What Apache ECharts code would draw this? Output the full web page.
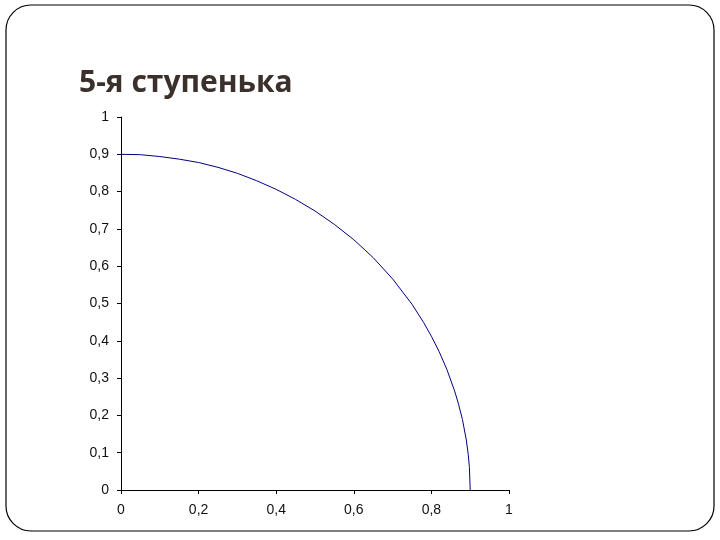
<!DOCTYPE html>
<html><head><meta charset="utf-8">
<script src="https://cdn.jsdelivr.net/npm/echarts@6/dist/echarts.min.js"></script>
<style>html,body{margin:0;padding:0;background:#fff}#c{width:720px;height:540px}</style>
</head><body><div id="c"></div>
<script>
const titleText = '5-я ступенька';
const xValues = [0, 0.05, 0.1, 0.15, 0.2, 0.25, 0.3, 0.35, 0.4, 0.45, 0.5, 0.55, 0.6, 0.65, 0.7, 0.75, 0.78, 0.8, 0.82, 0.84, 0.86, 0.87, 0.88, 0.89, 0.895, 0.898, 0.9];
const yValues = [0.9, 0.899, 0.894, 0.887, 0.878, 0.865, 0.849, 0.829, 0.806, 0.779, 0.748, 0.712, 0.671, 0.623, 0.566, 0.498, 0.449, 0.412, 0.371, 0.323, 0.265, 0.230, 0.189, 0.134, 0.095, 0.060, 0];
const xTicks = {min: 0, max: 1, interval: 0.2};
const yTicks = {min: 0, max: 1, interval: 0.1};

const chart = echarts.init(document.getElementById('c'), null, {renderer: 'canvas'});
const fmt = v => String(+v.toFixed(2)).replace('.', ',');
chart.setOption({
  animation: false,
  graphic: [
    {type: 'rect', shape: {x: 6, y: 5, width: 708, height: 526, r: 25}, style: {fill: 'none', stroke: '#000', lineWidth: 1.2}, z: 0},
    {type: 'text', left: 79, top: 68, style: {text: titleText, font: 'bold 30px "Open Sans"', fill: '#3b302b'}}
  ],
  grid: {left: 121, right: 211, top: 117, bottom: 50, containLabel: false},
  xAxis: {type: 'value', min: xTicks.min, max: xTicks.max, interval: xTicks.interval,
    axisLine: {lineStyle: {color: '#000', width: 1}},
    axisTick: {show: true, inside: false, length: 4, lineStyle: {color: '#000'}},
    splitLine: {show: false},
    axisLabel: {formatter: fmt, color: '#111', fontFamily: 'Liberation Sans', fontSize: 14, margin: 13}},
  yAxis: {type: 'value', min: yTicks.min, max: yTicks.max, interval: yTicks.interval,
    axisLine: {show: true, lineStyle: {color: '#000', width: 1}},
    axisTick: {show: true, inside: false, length: 4, lineStyle: {color: '#000'}},
    splitLine: {show: false},
    axisLabel: {formatter: fmt, color: '#111', fontFamily: 'Liberation Sans', fontSize: 14, margin: 12}},
  series: [{type: 'line', data: xValues.map((x, i) => [x, yValues[i]]), showSymbol: false, smooth: false,
    lineStyle: {color: '#000080', width: 1}}]
});
</script></body></html>
